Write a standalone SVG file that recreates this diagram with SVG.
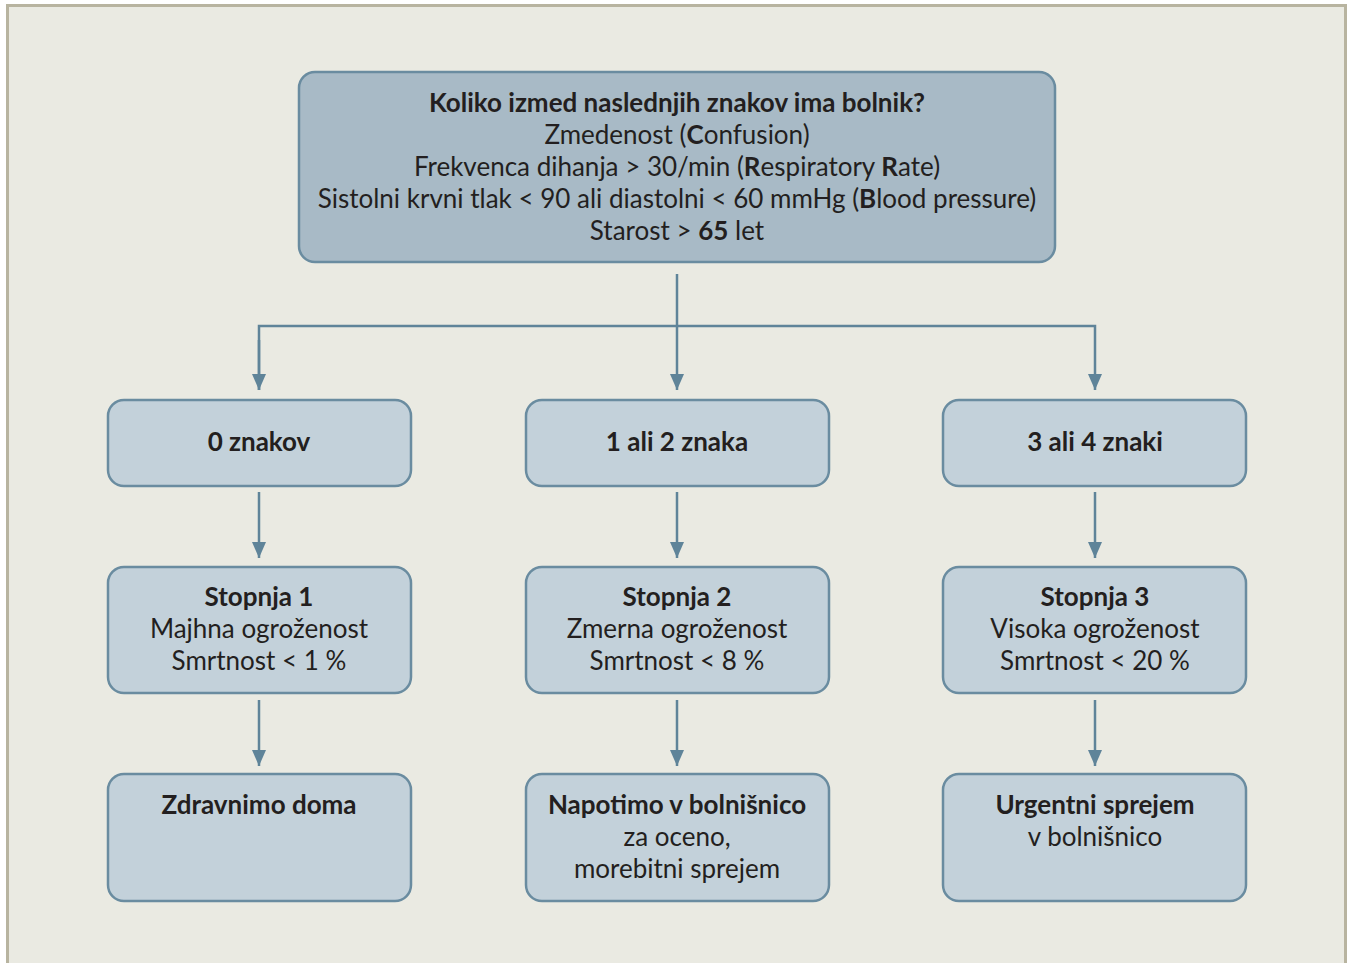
<svg xmlns="http://www.w3.org/2000/svg" width="1348" height="963" viewBox="0 0 1348 963">
<defs>
<style>
.bg{fill:#eaeae2;stroke:#b8b4a0;stroke-width:3}
.top{fill:#a8bac6;stroke:#6a8ca0;stroke-width:2.5}
.box{fill:#c3d1da;stroke:#6a8ca0;stroke-width:2.5}
text{font-family:"Lato","Noto Sans",sans-serif;font-size:26px;fill:#231f20;text-anchor:middle}
.b{font-weight:bold}
.c{fill:none;stroke:#5f8499;stroke-width:2.5}
</style>
<marker id="a" markerWidth="16" markerHeight="14" refX="16" refY="7" orient="auto" markerUnits="userSpaceOnUse">
<path d="M0,0 L16,7 L0,14 Z" fill="#5f8499"/>
</marker>
</defs>
<rect class="bg" x="7.5" y="5.5" width="1338" height="970"/>
<g id="connectors">
<path class="c" d="M677,274 V390" marker-end="url(#a)"/>
<path class="c" d="M259,390 V326 H1095 V390" marker-end="url(#a)"/>
<path class="c" d="M259,340 V390" marker-end="url(#a)"/>
<path class="c" d="M259,492 V558" marker-end="url(#a)"/>
<path class="c" d="M677,492 V558" marker-end="url(#a)"/>
<path class="c" d="M1095,492 V558" marker-end="url(#a)"/>
<path class="c" d="M259,700 V766" marker-end="url(#a)"/>
<path class="c" d="M677,700 V766" marker-end="url(#a)"/>
<path class="c" d="M1095,700 V766" marker-end="url(#a)"/>
</g>
<g id="question">
<rect class="top" x="299" y="72" width="756" height="190" rx="16"/>
<text x="677" y="112" class="b">Koliko izmed naslednjih znakov ima bolnik?</text>
<text x="677" y="144">Zmedenost (<tspan class="b">C</tspan>onfusion)</text>
<text x="677" y="176">Frekvenca dihanja &gt; 30/min (<tspan class="b">R</tspan>espiratory <tspan class="b">R</tspan>ate)</text>
<text x="677" y="208">Sistolni krvni tlak &lt; 90 ali diastolni &lt; 60 mmHg (<tspan class="b">B</tspan>lood pressure)</text>
<text x="677" y="240">Starost &gt; <tspan class="b">65</tspan> let</text>
</g>
<g id="n0"><rect class="box" x="108" y="400" width="303" height="86" rx="16"/><text x="259" y="451" class="b">0 znakov</text></g>
<g id="n12"><rect class="box" x="526" y="400" width="303" height="86" rx="16"/><text x="677" y="451" class="b">1 ali 2 znaka</text></g>
<g id="n34"><rect class="box" x="943" y="400" width="303" height="86" rx="16"/><text x="1095" y="451" class="b">3 ali 4 znaki</text></g>
<g id="s1"><rect class="box" x="108" y="567" width="303" height="126" rx="16"/>
<text x="259" y="606" class="b">Stopnja 1</text><text x="259" y="638">Majhna ogroženost</text><text x="259" y="670">Smrtnost &lt; 1 %</text></g>
<g id="s2"><rect class="box" x="526" y="567" width="303" height="126" rx="16"/>
<text x="677" y="606" class="b">Stopnja 2</text><text x="677" y="638">Zmerna ogroženost</text><text x="677" y="670">Smrtnost &lt; 8 %</text></g>
<g id="s3"><rect class="box" x="943" y="567" width="303" height="126" rx="16"/>
<text x="1095" y="606" class="b">Stopnja 3</text><text x="1095" y="638">Visoka ogroženost</text><text x="1095" y="670">Smrtnost &lt; 20 %</text></g>
<g id="r1"><rect class="box" x="108" y="774" width="303" height="127" rx="16"/>
<text x="259" y="814" class="b">Zdravnimo doma</text></g>
<g id="r2"><rect class="box" x="526" y="774" width="303" height="127" rx="16"/>
<text x="677" y="814" class="b">Napotimo v bolnišnico</text><text x="677" y="846">za oceno,</text><text x="677" y="878">morebitni sprejem</text></g>
<g id="r3"><rect class="box" x="943" y="774" width="303" height="127" rx="16"/>
<text x="1095" y="814" class="b">Urgentni sprejem</text><text x="1095" y="846">v bolnišnico</text></g>
</svg>
